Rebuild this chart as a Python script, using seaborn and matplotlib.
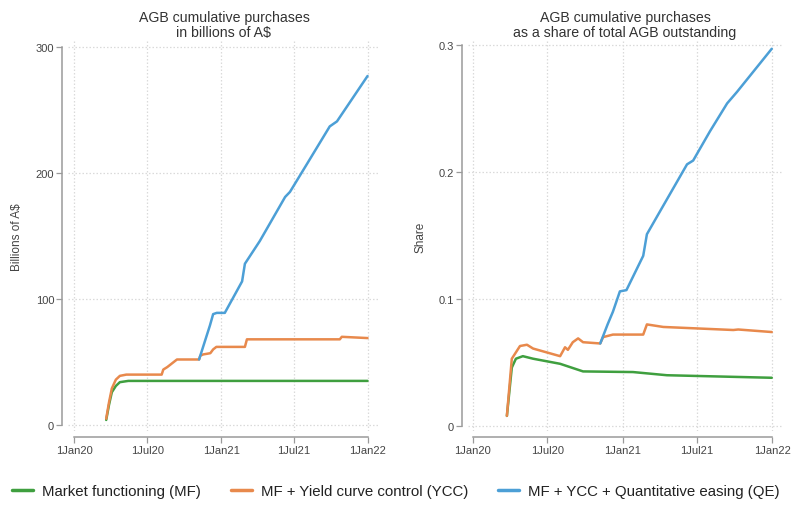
import matplotlib
matplotlib.use("Agg")
import matplotlib.pyplot as plt
import matplotlib.dates as mdates
import seaborn as sns
import pandas as pd
import numpy as np
from matplotlib.lines import Line2D

# ---------------- data ----------------
series_names = ["Market functioning (MF)",
                "MF + Yield curve control (YCC)",
                "MF + YCC + Quantitative easing (QE)"]
series_colors = ["#3f9f3f", "#e8894c", "#4c9fd6"]

# Left panel: billions of A$
mf_bn_dates = ["2020-03-21", "2020-03-28", "2020-04-04", "2020-04-14", "2020-04-24",
               "2020-05-15", "2020-08-01", "2020-12-01", "2021-06-01", "2021-12-31"]
mf_bn = [4, 16, 26, 31, 34, 35, 35, 35, 35, 35]

ycc_bn_dates = ["2020-03-21", "2020-03-28", "2020-04-04", "2020-04-14", "2020-04-24",
                "2020-05-10", "2020-08-06", "2020-08-10", "2020-08-20", "2020-08-28",
                "2020-09-13", "2020-11-07", "2020-11-10", "2020-11-17", "2020-12-05",
                "2020-12-12", "2020-12-20", "2021-03-01", "2021-03-06", "2021-10-23",
                "2021-10-28", "2021-12-31"]
ycc_bn = [5, 18, 29, 36, 39, 40, 40, 44, 46, 48, 52, 52, 55, 56, 57, 60, 62, 62, 68, 68, 70, 69]

qe_bn_dates = ["2020-11-07", "2020-11-20", "2020-12-04", "2020-12-12", "2020-12-21",
               "2021-01-10", "2021-02-10", "2021-02-22", "2021-03-01", "2021-04-07",
               "2021-06-09", "2021-06-21", "2021-08-02", "2021-09-28", "2021-10-16",
               "2021-12-31"]
qe_bn = [52, 65, 79, 88, 89, 89, 107, 114, 128, 146, 181, 185, 207, 237, 241, 277]

# Right panel: share of total AGB outstanding
mf_sh_dates = ["2020-03-24", "2020-04-05", "2020-04-15", "2020-05-02", "2020-05-27",
               "2020-08-01", "2020-09-26", "2021-01-26", "2021-04-19", "2021-12-31"]
mf_sh = [0.008, 0.046, 0.053, 0.055, 0.053, 0.049, 0.043, 0.0425, 0.040, 0.038]

ycc_sh_dates = ["2020-03-24", "2020-04-05", "2020-04-25", "2020-05-12", "2020-05-27",
                "2020-08-01", "2020-08-13", "2020-08-20", "2020-09-01", "2020-09-14",
                "2020-09-26", "2020-11-07", "2020-11-14", "2020-12-08", "2021-02-20",
                "2021-03-01", "2021-04-10", "2021-09-28", "2021-10-10", "2021-12-31"]
ycc_sh = [0.008, 0.053, 0.063, 0.064, 0.061, 0.055, 0.062, 0.060, 0.066, 0.069,
          0.066, 0.065, 0.070, 0.072, 0.072, 0.080, 0.078, 0.0756, 0.076, 0.074]

qe_sh_dates = ["2020-11-07", "2020-11-25", "2020-12-08", "2020-12-25", "2021-01-10",
               "2021-02-20", "2021-03-01", "2021-04-02", "2021-06-07", "2021-06-22",
               "2021-08-02", "2021-09-13", "2021-10-07", "2021-12-31"]
qe_sh = [0.065, 0.080, 0.090, 0.106, 0.107, 0.134, 0.151, 0.169, 0.206, 0.209,
         0.232, 0.254, 0.263, 0.297]

x_tick_dates = ["2020-01-01", "2020-07-01", "2021-01-01", "2021-07-01", "2022-01-01"]
x_tick_labels = ["1Jan20", "1Jul20", "1Jan21", "1Jul21", "1Jan22"]
left_yticks = [0, 100, 200, 300]
left_ytick_labels = ["0", "100", "200", "300"]
right_yticks = [0, 0.1, 0.2, 0.3]
right_ytick_labels = ["0", "0.1", "0.2", "0.3"]

titles = ["AGB cumulative purchases\nin billions of A$",
          "AGB cumulative purchases\nas a share of total AGB outstanding"]
ylabels = ["Billions of A$", "Share"]


def make_df(dates_list, values_list):
    frames = []
    for name, d, v in zip(series_names, dates_list, values_list):
        frames.append(pd.DataFrame({"date": pd.to_datetime(d), "value": v, "series": name}))
    return pd.concat(frames, ignore_index=True)


df_bn = make_df([mf_bn_dates, ycc_bn_dates, qe_bn_dates], [mf_bn, ycc_bn, qe_bn])
df_sh = make_df([mf_sh_dates, ycc_sh_dates, qe_sh_dates], [mf_sh, ycc_sh, qe_sh])

# ---------------- style ----------------
sns.set_theme(style="white")
plt.rcParams["font.family"] = ["Liberation Sans", "DejaVu Sans"]

W, H = 792, 506
fig = plt.figure(figsize=(W / 100, H / 100), dpi=100)


def px_axes(l, t, r, b):
    return fig.add_axes([l / W, 1 - b / H, (r - l) / W, (b - t) / H])


ax_l = px_axes(68, 42, 380, 432)
ax_r = px_axes(468, 42, 782, 432)

palette = dict(zip(series_names, series_colors))
tick_dates = pd.to_datetime(x_tick_dates)
tick_nums = mdates.date2num(tick_dates.to_pydatetime())
grid_col = "#dadada"
spine_col = "#9a9a9a"
text_col = "#444444"

configs = [
    (ax_l, df_bn, left_yticks, left_ytick_labels, (-4.76, 304.8), 15, 30),
    (ax_r, df_sh, right_yticks, right_ytick_labels, (-0.0039, 0.3031), 12, 24),
]

for i, (ax, df, yt, ytl, ylim, pre, post) in enumerate(configs):
    sns.lineplot(data=df, x="date", y="value", hue="series", palette=palette,
                 hue_order=series_names, linewidth=1.8, ax=ax, legend=False,
                 estimator=None, sort=False)
    ax.set_xlim(tick_nums[0] - pre, tick_nums[-1] + post)
    ax.set_ylim(*ylim)
    ax.set_xticks(tick_nums)
    ax.set_xticklabels(x_tick_labels)
    ax.set_yticks(yt)
    ax.set_yticklabels(ytl)
    ax.grid(True, color=grid_col, linestyle=(0, (1.2, 1.6)), linewidth=0.9)
    ax.set_axisbelow(True)
    for s in ["top", "right"]:
        ax.spines[s].set_visible(False)
    ax.spines["left"].set_position(("outward", 4))
    ax.spines["bottom"].set_position(("outward", 4))
    ax.spines["left"].set_bounds(yt[0], yt[-1])
    ax.spines["bottom"].set_bounds(tick_nums[0], tick_nums[-1])
    for s in ["left", "bottom"]:
        ax.spines[s].set_color(spine_col)
        ax.spines[s].set_linewidth(1.1)
    ax.tick_params(axis="both", which="major", length=4, width=0.9, color=spine_col,
                   labelsize=8, labelcolor=text_col, pad=2, left=True, bottom=True)
    ax.set_xlabel("")
    ax.set_ylabel(ylabels[i], fontsize=8.5, color=text_col, labelpad=9)
    ax.set_title(titles[i], fontsize=10.2, color="#333333", pad=3.5, linespacing=1.1)

handles = [Line2D([0], [0], color=c, linewidth=2.5) for c in series_colors]
fig.legend(handles, series_names, loc="center", bbox_to_anchor=(0.5, 1 - 492 / H),
           ncol=3, frameon=False, fontsize=10.8, handlelength=1.4, handletextpad=0.6,
           columnspacing=2.0, labelcolor="#222222")

fig.savefig("out.png", dpi=100)
